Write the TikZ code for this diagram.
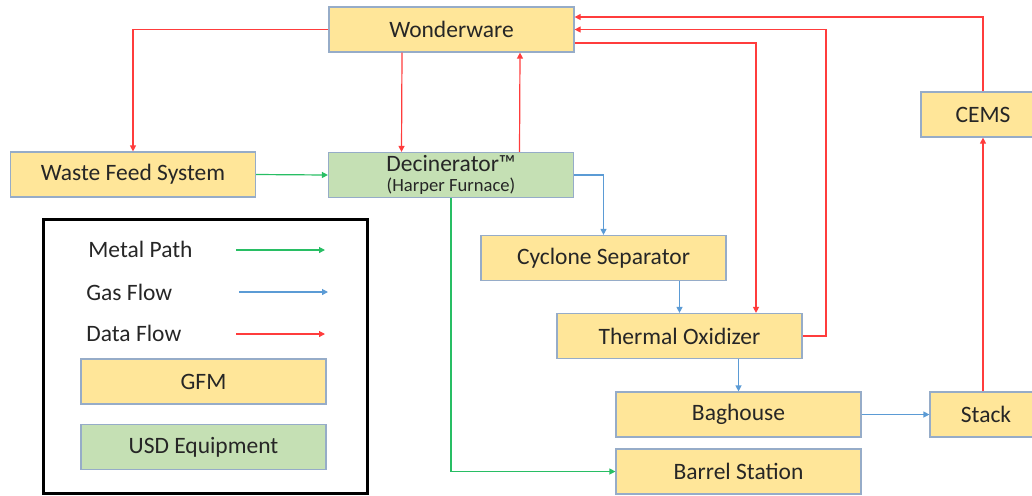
\documentclass[tikz,border=0pt]{standalone}
\usepackage{fontspec}
\setmainfont{Carlito}
\usepackage{tikz}
\usetikzlibrary{shapes, positioning, arrows.meta}
\definecolor{gfmfill}{RGB}{255,230,153}
\definecolor{usdfill}{RGB}{197,224,180}
\definecolor{boxline}{RGB}{150,172,200}
\definecolor{dataline}{RGB}{255,60,60}
\definecolor{gasline}{RGB}{91,155,213}
\definecolor{metalline}{RGB}{40,190,100}
\definecolor{txt}{RGB}{38,38,38}

\begin{document}
\begin{tikzpicture}[x=0.5pt, y=-0.5pt, >={Triangle[length=3pt,width=3pt]},
  gfm/.style={rectangle, draw=boxline, line width=0.6pt, fill=gfmfill, text=txt,
    minimum width=122.5pt, minimum height=22.5pt, inner sep=0pt,
    font=\fontsize{11.75}{14}\selectfont},
  usd/.style={gfm, fill=usdfill},
  data/.style={->, draw=dataline, line width=0.6pt},
  gas/.style={->, draw=gasline, line width=0.6pt},
  metal/.style={->, draw=metalline, line width=0.6pt},
  legtext/.style={anchor=west, text=txt, inner sep=0pt, font=\fontsize{11.75}{14}\selectfont}]
  \useasboundingbox (0,0) rectangle (1032,495);
  \clip (0,0) rectangle (1032,495);

  \node[gfm] (ww) at (451.5,29.5) {Wonderware};
  \node[usd, align=center] (dec) at (451,175) {Decinerator™\\[-4pt]{\fontsize{9.3}{11}\selectfont (Harper Furnace)}};
  \node[gfm] (wfs) at (133,174.5) {Waste Feed System};
  \node[gfm, minimum width=62pt] (cems) at (983,114.5) {CEMS};
  \node[gfm] (cyc) at (603.5,258) {Cyclone Separator};
  \node[gfm] (tox) at (679.5,336) {Thermal Oxidizer};
  \node[gfm] (bag) at (738.5,414.5) {Baghouse};
  \node[gfm, minimum width=56pt] (stack) at (986,414.5) {Stack};
  \node[gfm] (barrel) at (738.5,471.5) {Barrel Station};

  % data flow
  \draw[data] (ww.west) -| (wfs.north);
  \draw[data] ([xshift=-24.75pt]ww.south) -- ([xshift=-24.75pt]dec.north);
  \draw[data] ([xshift=34.25pt]dec.north) -- ([xshift=34.25pt]ww.south);
  \draw[data, -] ([yshift=-6.75pt]ww.east) -| (756,300);
  \draw[data] (756,300) -- ([xshift=38.25pt]tox.north);
  \draw[data] (tox.east) -| (826,29.5) -- (ww.east);
  \draw[data] (cems.north) |- ([yshift=6.25pt]ww.east);
  \draw[data] (stack.north -| cems.south) -- (cems.south);

  % gas flow
  \draw[gas] (dec.east) -| (cyc.north);
  \draw[gas] (cyc.south -| tox.north) -- (tox.north);
  \draw[gas] (tox.south -| bag.north) -- (bag.north);
  \draw[gas] (bag.east) -- (stack.west);

  % metal path
  \draw[metal] (wfs.east) -- (dec.west);
  \draw[metal] (dec.south) |- (barrel.west);

  % legend
  \draw[black, line width=1.5pt] (43,219) rectangle (367,493);
  \node[legtext] (lmetal) at (88,249) {Metal Path};
  \node[legtext] (lgas) at (86,292) {Gas Flow};
  \node[legtext] (ldata) at (86,333) {Data Flow};
  \coordinate (m1) at (236,250);
  \coordinate (m2) at (325,250);
  \coordinate (g1) at (239,292);
  \coordinate (g2) at (328,292);
  \coordinate (d1) at (236,334);
  \coordinate (d2) at (325,334);
  \draw[metal] (m1) -- (m2);
  \draw[gas] (g1) -- (g2);
  \draw[data] (d1) -- (d2);
  \node[gfm] (lgfm) at (203.5,381.5) {GFM};
  \node[usd] (lusd) at (203.5,447) {USD Equipment};
\end{tikzpicture}
\end{document}
